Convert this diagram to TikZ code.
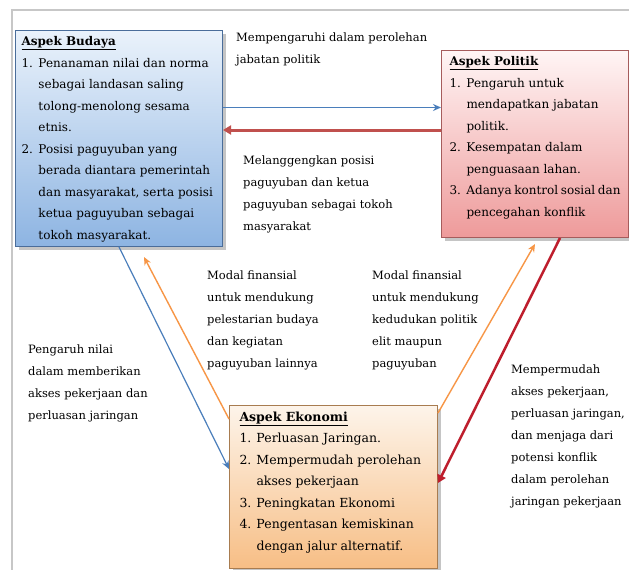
\documentclass[tikz,border=0pt]{standalone}
\usepackage{fontspec}
\setmainfont{DejaVu Serif}
\usetikzlibrary{arrows.meta,shadows}
\definecolor{budtop}{HTML}{EAF2FB}
\definecolor{budbot}{HTML}{8DB4E2}
\definecolor{budline}{HTML}{4A6D9A}
\definecolor{poltop}{HTML}{FFF5F5}
\definecolor{polbot}{HTML}{EE9A9A}
\definecolor{polline}{HTML}{A65C5C}
\definecolor{ekotop}{HTML}{FDF4EA}
\definecolor{ekobot}{HTML}{F7BE85}
\definecolor{ekoline}{HTML}{A87C50}
\definecolor{arrblue}{HTML}{4A7EBB}
\definecolor{arrred}{HTML}{C0504D}
\definecolor{arrcrim}{HTML}{BE1E2D}
\definecolor{arrorange}{HTML}{F79646}
\newcommand{\itm}[2]{\par\hangindent=17pt\hangafter=1\noindent\makebox[17pt][l]{#1}#2}
\newcommand{\boxhead}[1]{\noindent\textbf{\underline{#1}}}

\begin{document}
\begin{tikzpicture}[x=1pt,y=-1pt,
  aspek/.style={draw,line width=1pt,anchor=north west,inner xsep=6pt,inner ysep=6pt,
    font=\fontsize{12}{21.5}\selectfont,
    drop shadow={shadow xshift=3pt,shadow yshift=-3pt,fill=black!45}},
  ket/.style={anchor=north west,align=left,inner sep=0pt,font=\fontsize{11.5}{22}\selectfont},
  panahbiru/.style={draw=arrblue,line width=1.2pt,-{Stealth[length=8pt,width=7pt]}},
  panahjingga/.style={draw=arrorange,line width=1.4pt,-{Stealth[length=8pt,width=7pt]}},
  panahmerah/.style={draw=#1,line width=3pt,-{Triangle[length=8pt,width=9pt]}}]
\useasboundingbox (0,0) rectangle (629,570);
\fill[white] (0,0) rectangle (629,570);
\draw[black!22,line width=2pt] (12,570) -- (12,10) -- (629,10);

% kotak aspek
\node[aspek,draw=budline,top color=budtop,bottom color=budbot] (budaya) at (15,30) {%
\begin{minipage}[t][204pt][t]{195pt}
\boxhead{Aspek Budaya}
\itm{1.}{Penanaman nilai dan norma\\sebagai landasan saling\\tolong-menolong sesama\\etnis.}
\itm{2.}{Posisi paguyuban yang\\berada diantara pemerintah\\dan masyarakat, serta posisi\\ketua paguyuban sebagai\\tokoh masyarakat.}
\end{minipage}};
\node[aspek,draw=polline,top color=poltop,bottom color=polbot,inner xsep=8pt] (politik) at (441,50) {%
\begin{minipage}[t][175pt][t]{171pt}
\boxhead{Aspek Politik}
\itm{1.}{Pengaruh untuk\\mendapatkan jabatan\\politik.}
\itm{2.}{Kesempatan dalam\\penguasaan lahan.}
\itm{3.}{Adanya kontrol sosial dan\\pencegahan konflik}
\end{minipage}};
\node[aspek,draw=ekoline,top color=ekotop,bottom color=ekobot,inner xsep=10pt,
  font=\fontsize{12.5}{21.5}\selectfont] (ekonomi) at (229,405) {%
\begin{minipage}[t][151pt][t]{188pt}
\boxhead{Aspek Ekonomi}
\itm{1.}{Perluasan Jaringan.}
\itm{2.}{Mempermudah perolehan\\akses pekerjaan}
\itm{3.}{Peningkatan Ekonomi}
\itm{4.}{Pengentasan kemiskinan\\dengan jalur alternatif.}
\end{minipage}};

% keterangan
\node[ket] (pengpol) at (236,33) {Mempengaruhi dalam perolehan\\jabatan politik};
\node[ket] (langgeng) at (243,156) {Melanggengkan posisi\\paguyuban dan ketua\\paguyuban sebagai tokoh\\masyarakat};
\node[ket] (modalbud) at (207,271) {Modal finansial\\untuk mendukung\\pelestarian budaya\\dan kegiatan\\paguyuban lainnya};
\node[ket] (modalpol) at (372,271) {Modal finansial\\untuk mendukung\\kedudukan politik\\elit maupun\\paguyuban};
\node[ket] (nilai) at (28,345) {Pengaruh nilai\\dalam memberikan\\akses pekerjaan dan\\perluasan jaringan};
\node[ket] (mudah) at (511,365) {Mempermudah\\akses pekerjaan,\\perluasan jaringan,\\dan menjaga dari\\potensi konflik\\dalam perolehan\\jaringan pekerjaan};

% panah
\coordinate (bt) at ([yshift=31pt]budaya.east);
\coordinate (rt) at ([yshift=14pt]politik.west);
\draw[panahbiru] (bt) -- (bt -| politik.west);
\draw[panahmerah=arrred] (rt) -- (rt -| budaya.east);
\draw[panahbiru] (budaya.south) -- ([yshift=18pt]ekonomi.west);
\draw[panahjingga] ([yshift=68pt]ekonomi.west) -- ([xshift=25pt,yshift=-10pt]budaya.south);
\draw[panahjingga] ([yshift=74pt]ekonomi.east) -- ([yshift=-6pt]politik.south);
\draw[panahmerah=arrcrim,line width=2.5pt] ([xshift=25pt]politik.south) -- ([yshift=4pt]ekonomi.east);
\end{tikzpicture}
\end{document}
